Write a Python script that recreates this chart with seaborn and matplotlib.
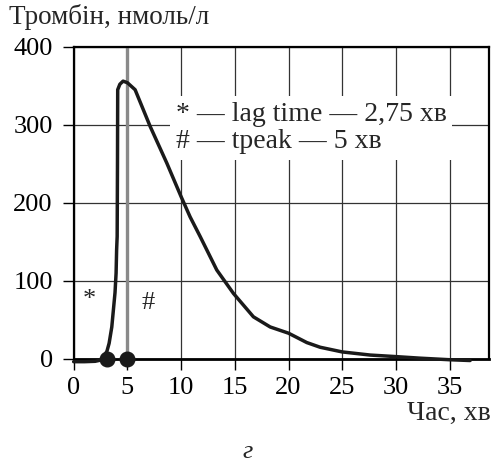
import matplotlib
matplotlib.use('Agg')
import matplotlib.pyplot as plt
import seaborn as sns

# thrombin generation curve
time_min = [0, 1, 2, 2.5, 2.8, 3.1, 3.3, 3.55, 3.7, 3.85, 3.95, 4.0, 4.05, 4.08, 4.1,
            4.3, 4.6, 5.0, 5.72, 7.12, 8.67, 10.0, 10.84, 11.77, 13.32, 14.87,
            16.73, 18.29, 20, 21.7, 22.94, 25, 27.6, 30, 32.25, 35, 36.9]
thrombin = [-3.5, -3.5, -3, -1.5, 3, 10, 20, 41, 63, 85, 110, 140, 157, 250, 345,
            352, 356, 354, 345, 298, 251, 208, 182, 157, 114, 84,
            54, 41, 33, 21, 15, 9, 5, 3, 1, -1, -2]
lag_time = 3.1
t_peak = 5.0

x_ticks = [0, 5, 10, 15, 20, 25, 30, 35]
y_ticks = [0, 100, 200, 300, 400]

sns.set_style('white')
plt.rcParams['font.family'] = ['Liberation Serif', 'DejaVu Serif']

fig = plt.figure(figsize=(5.01, 4.68), dpi=100)
ax = fig.add_axes([0.147, 0.233, 0.83, 0.667])

ax.set_xlim(0, 38.7)
ax.set_ylim(0, 400)
ax.set_xticks(x_ticks)
ax.set_yticks(y_ticks)
ax.grid(True, color='#333333', lw=0.9, zorder=0)
ax.set_axisbelow(True)
ax.tick_params(direction='out', length=8, width=1, colors='black', labelsize=19,
               left=True, bottom=True)
ax.tick_params(axis='y', pad=7)
ax.tick_params(axis='x', pad=5)
for s in ax.spines.values():
    s.set_color('black')
    s.set_linewidth(1.6)
ax.spines['bottom'].set_linewidth(2)

# peak marker line
ax.axvline(t_peak, color='#8a8a8a', lw=2.4, zorder=2)

sns.lineplot(x=time_min, y=thrombin, sort=False, estimator=None, color='#1a1a1a',
             lw=2.5, ax=ax, zorder=4, clip_on=False)
ax.plot([lag_time, t_peak], [0, 0], 'o', color='#1a1a1a', ms=10.5, zorder=5,
        clip_on=False)

ax.text(1.5, 76, '*', fontsize=19, ha='center', va='center')
ax.text(6.9, 72, '#', fontsize=19, ha='center', va='center')
ax.text(9.5, 296, '* — lag time — 2,75 хв\n# — tpeak — 5 хв', fontsize=20,
        ha='left', va='center', linespacing=1.15, zorder=3,
        bbox=dict(facecolor='white', edgecolor='none', pad=4))

fig.text(0.018, 0.963, 'Тромбін, нмоль/л', fontsize=19.5, ha='left', va='center')
fig.text(0.979, 0.117, 'Час, хв', fontsize=20, ha='right', va='center')
fig.text(0.495, 0.034, 'г', fontsize=19, style='italic', ha='center', va='center')

fig.savefig('out.png', dpi=100)
